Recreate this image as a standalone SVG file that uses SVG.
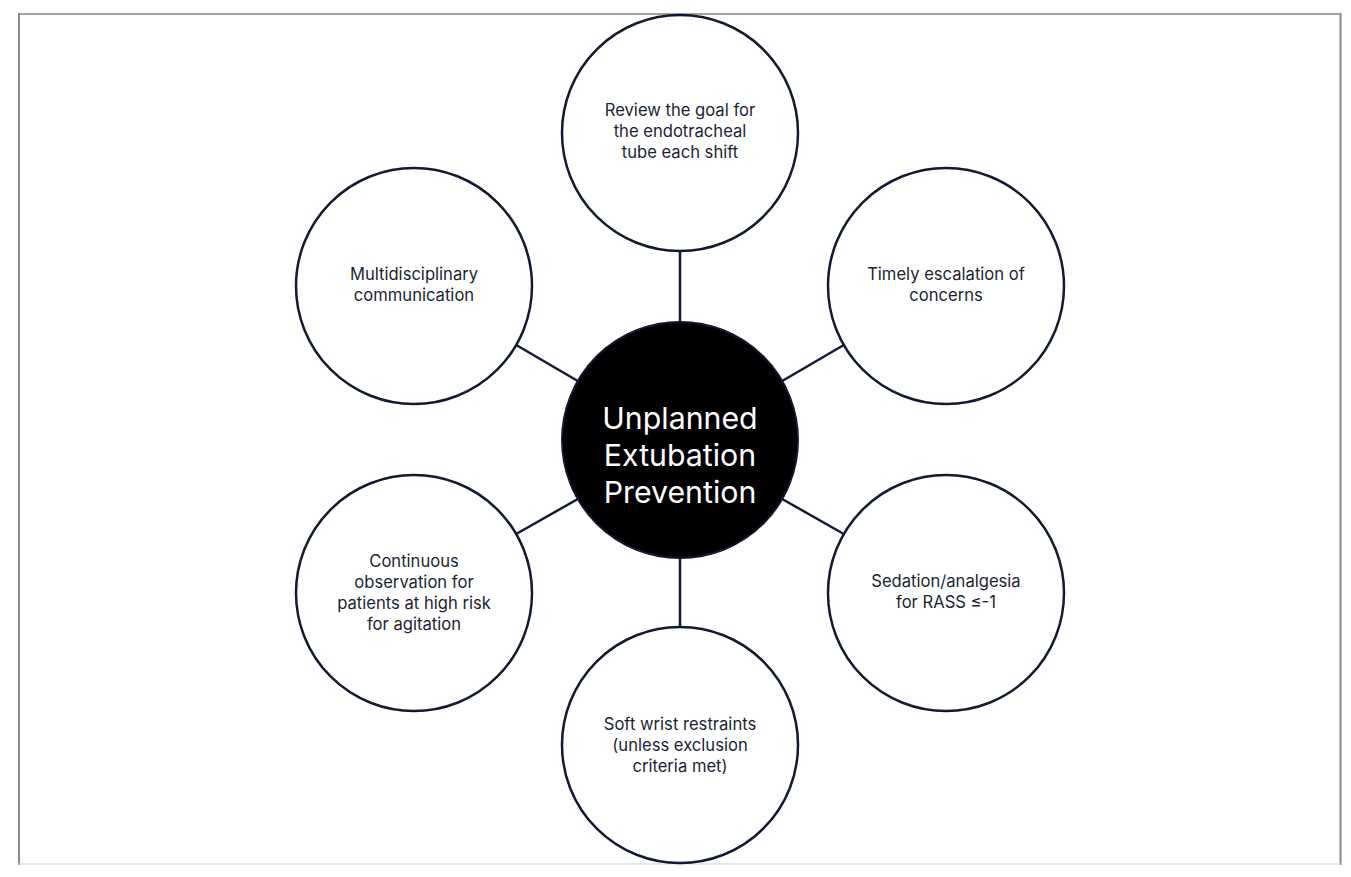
<svg xmlns="http://www.w3.org/2000/svg" width="1351" height="877" viewBox="0 0 1351 877">
<style>
.node{fill:#ffffff;stroke:#101a30;stroke-width:2.5}
.hub{fill:#000000;stroke:#101a30;stroke-width:2}
.lbl{font-family:Inter,"Open Sans","Liberation Sans",sans-serif;font-size:16.6px;fill:#1a1f33;text-anchor:middle}
.hubl{font-family:Inter,"Open Sans","Liberation Sans",sans-serif;font-size:30.3px;fill:#ffffff;text-anchor:middle}
.conn line{stroke:#101a30;stroke-width:2.5}
.frame{stroke-width:2}
</style>
<rect x="0" y="0" width="1351" height="877" fill="#ffffff"/>
<g id="frame">
<line x1="18" y1="14" x2="1341" y2="14" stroke="#a3a3a3" class="frame"/>
<line x1="19" y1="13" x2="19" y2="865" stroke="#8a8a8a" class="frame"/>
<line x1="1340.5" y1="13" x2="1340.5" y2="865" stroke="#8a8a8a" class="frame"/>
<line x1="18" y1="864" x2="1341" y2="864" stroke="#cfcfcf" stroke-width="1"/>
</g>
<g id="connectors" class="conn">
<line x1="680" y1="251" x2="680" y2="322"/>
<line x1="516.2" y1="345" x2="577.8" y2="381"/>
<line x1="843.8" y1="345" x2="782.2" y2="381"/>
<line x1="516.2" y1="534" x2="577.8" y2="499"/>
<line x1="843.8" y1="534" x2="782.2" y2="499"/>
<line x1="680" y1="558" x2="680" y2="627"/>
</g>
<g id="hub">
<circle class="hub" cx="680" cy="440" r="118"/>
<text class="hubl" x="680" y="429">Unplanned</text>
<text class="hubl" x="680" y="466">Extubation</text>
<text class="hubl" x="680" y="503">Prevention</text>
</g>
<g id="node-top">
<circle class="node" cx="680" cy="133" r="118"/>
<text class="lbl" x="680" y="116">Review the goal for</text>
<text class="lbl" x="680" y="137">the endotracheal</text>
<text class="lbl" x="680" y="158">tube each shift</text>
</g>
<g id="node-upper-left">
<circle class="node" cx="414" cy="286" r="118"/>
<text class="lbl" x="414" y="280">Multidisciplinary</text>
<text class="lbl" x="414" y="301">communication</text>
</g>
<g id="node-upper-right">
<circle class="node" cx="946" cy="286" r="118"/>
<text class="lbl" x="946" y="280">Timely escalation of</text>
<text class="lbl" x="946" y="301">concerns</text>
</g>
<g id="node-lower-left">
<circle class="node" cx="414" cy="593" r="118"/>
<text class="lbl" x="414" y="567">Continuous</text>
<text class="lbl" x="414" y="588">observation for</text>
<text class="lbl" x="414" y="609">patients at high risk</text>
<text class="lbl" x="414" y="630">for agitation</text>
</g>
<g id="node-lower-right">
<circle class="node" cx="946" cy="593" r="118"/>
<text class="lbl" x="946" y="587">Sedation/analgesia</text>
<text class="lbl" x="946" y="608">for RASS ≤-1</text>
</g>
<g id="node-bottom">
<circle class="node" cx="680" cy="745" r="118"/>
<text class="lbl" x="680" y="730">Soft wrist restraints</text>
<text class="lbl" x="680" y="751">(unless exclusion</text>
<text class="lbl" x="680" y="772">criteria met)</text>
</g>
</svg>
